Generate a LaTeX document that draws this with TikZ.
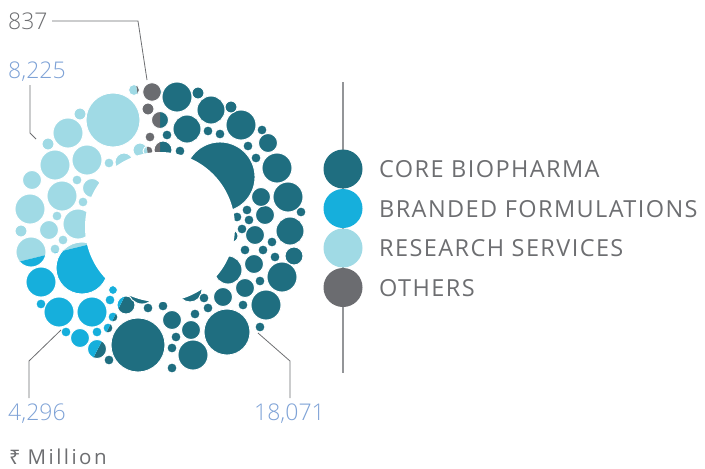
\documentclass[tikz,border=0pt]{standalone}
\usepackage{fontspec}
\IfFontExistsTF{Open Sans Light}{\setmainfont{Open Sans Light}}{\setmainfont{Open Sans}}
\newfontfamily\legfont[LetterSpace=6]{Open Sans}
\newfontfamily\unitfont[LetterSpace=12]{Open Sans}
\newfontfamily\rupeefont{Noto Sans}
\definecolor{core}{HTML}{1F6E80}
\definecolor{branded}{HTML}{16AFDC}
\definecolor{research}{HTML}{A0DAE5}
\definecolor{others}{HTML}{6B6C70}
\definecolor{labgrey}{HTML}{6D6E71}
\definecolor{labblue}{HTML}{7EA2D6}
\definecolor{legline}{HTML}{939598}
\newcommand\bubblelist{
113/120/27, 80/114/6, 68/133/15, 48/144/6, 55/165/15, 87/160/15, 109/163/5, 124/162/9, 140/150/7, 134/90/5.5,
32/180/9.5, 77/180/5, 92/188/9.5, 62/196/15, 83/202/5, 30/209/15, 57/216/5, 78/224/15, 49/230/9.5, 21/231/6,
63/240/5, 55/249/5, 31/252/15, 82/268/26,
41/282/15, 113/290/4.5, 110/300/5, 126/305/9, 41/304/5, 59/312/15, 92/312/15, 113/317/5, 108/328/5, 66/332/5,
80/338/9.5, 97/332/5, 97/349/9.5, 109/360/5,
142/290/14, 190/290/12, 232/236/6,
138/345/27, 148/308/5, 163/306/5, 172/320/9.5, 176/337/5, 172/348/5, 172/368/5, 191/330/9.5, 193/355/15,
195/314/5, 204/298/5, 208/308/5, 223/297/9.5, 227/332/23, 243/305/5, 245/288/9.5, 260/281/5, 260/327/5,
266/305/15, 228/270/14, 254/264/9.5, 282/277/15, 263/250/5, 275/257/5, 294/256/9, 245/250/5, 255/235/9.5,
272/242/5, 290/231/14, 242/229/5, 249/220/5, 237/217/5, 247/210/5, 265/215/9.5, 301/212/5, 261/197/9.5,
288/197/15, 277/168/15, 256/158/5, 268/143/9.5, 248/146/5, 262/130/5, 241/125/15, 220/134/5, 208/131/5,
231/107/6, 211/110/14, 198/93/6, 177/97/15, 187/129/14, 167/135/5, 180/151/5, 163/150/9, 160/120/8.5,
220/177/35,
152/92/9.3, 148/109/6, 150/137/5, 148/151/5}
\tikzset{
  bubble/.style={draw=white, line width=0.9pt},
  lab/.style={inner sep=0pt, font=\fontsize{23}{23}\selectfont},
  legtext/.style={inner sep=0pt, anchor=base west, text=labgrey, font=\legfont\fontsize{23.5}{24}\selectfont},
  legdot/.style={circle, inner sep=0pt, minimum size=39pt},
  leader/.style={draw=labgrey, line width=0.8pt},
}
\newcommand\sector[3]{%
  \begin{scope}
    \clip (160,227) -- ++(#1:260pt) arc[start angle=#1, end angle=#2, radius=260pt] -- cycle;
    \foreach \bx/\by/\br in \bubblelist {\filldraw[bubble, fill=#3] (\bx,\by) circle (\br pt);}
  \end{scope}}
\begin{document}
\begin{tikzpicture}[x=1pt,y=-1pt]
\useasboundingbox (0,0) rectangle (705,469);
% donut of bubbles
\sector{-116.99}{90}{core}
\sector{90}{99.59}{others}
\sector{99.59}{193.80}{research}
\sector{193.80}{243.01}{branded}
\fill[white] (160,227) circle (75pt);
% labels and leaders
\node[lab, anchor=base west, text=labgrey] (n837) at (8,29) {837};
\node[lab, anchor=base west, text=labblue] (n8225) at (8,78) {8,225};
\node[lab, anchor=base west, text=labblue] (n4296) at (8,420) {4,296};
\node[lab, anchor=base east, text=labblue] (n18071) at (325,420) {18,071};
\coordinate (a1) at (52,21); \coordinate (a2) at (138,21); \coordinate (a3) at (147,80);
\coordinate (b1) at (30,85); \coordinate (b2) at (30,133); \coordinate (b3) at (36,139);
\coordinate (c1) at (61,330); \coordinate (c2) at (29,361); \coordinate (c3) at (29,398);
\coordinate (d1) at (258,333); \coordinate (d2) at (290,361); \coordinate (d3) at (290,398);
\draw[leader] (a1) -- (a2) -- (a3);
\draw[leader] (b1) -- (b2) -- (b3);
\draw[leader] (c1) -- (c2) -- (c3);
\draw[leader] (d1) -- (d2) -- (d3);
\node[inner sep=0pt, anchor=base west, text=labgrey] (unit) at (9,464)
  {{\rupeefont\fontsize{20}{20}\selectfont ₹}\hspace{7pt}{\unitfont\fontsize{20.5}{21}\selectfont Million}};
% legend
\coordinate (lt) at (343,82); \coordinate (lb) at (343,373);
\draw[draw=legline, line width=1.5pt] (lt) -- (lb);
\node[legdot, fill=core] (k1) at (343,169) {};
\node[legdot, fill=branded] (k2) at (343,208.5) {};
\node[legdot, fill=research] (k3) at (343,248) {};
\node[legdot, fill=others] (k4) at (343,287.5) {};
\node[legtext] (t1) at (379,177.5) {CORE BIOPHARMA};
\node[legtext] (t2) at (379,217) {BRANDED FORMULATIONS};
\node[legtext] (t3) at (379,256.5) {RESEARCH SERVICES};
\node[legtext] (t4) at (379,296) {OTHERS};
\end{tikzpicture}
\end{document}
